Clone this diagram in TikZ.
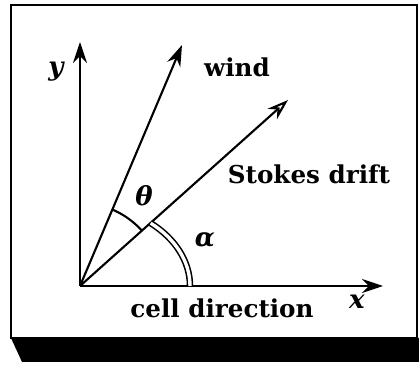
\documentclass[tikz,border=0pt]{standalone}
\usepackage{fontspec}
\setmainfont{DejaVu Serif}
\usepackage{xcolor}
\usepackage{tikz}
\usetikzlibrary{arrows.meta, positioning, calc}

\begin{document}
\begin{tikzpicture}[
    every node/.style={font=\fontsize{17.5}{20}\selectfont\bfseries},
    mth/.style={font=\fontsize{18.5}{20}\selectfont\bfseries\itshape},
    axis/.style={-{Stealth[length=15pt, width=10pt]}, line width=1.5pt},
    vec/.style={-{Stealth[length=15pt, width=10pt]}, line width=1.5pt},
    ovec/.style={-{Stealth[open, length=15pt, width=10pt]}, line width=1.5pt},
    ang/.style={line width=1.5pt},
  ]
    \useasboundingbox (-2.0,-2.15) rectangle (8.475,7.15);

    % frame and shadow
    \fill[black] (-1.725,-1.3) -- (8.475,-1.3) -- (8.475,-1.9)
                 -- (-1.45,-1.9) -- cycle;
    \draw[line width=1.6pt] (-1.725,-1.3) rectangle (8.425,7.025);

    % axes
    \coordinate (O) at (0,0);
    \coordinate (xtip) at (7.575,0);
    \coordinate (ytip) at (0,6.1);
    \draw[axis] (O) -- (xtip);
    \draw[axis] (O) -- (ytip);
    \node[mth] (ylab) at (-0.6,5.35) {y};
    \node[mth] (xlab) at (6.925,-0.4) {x};
    \node (cell) at (3.55,-0.55) {cell direction};

    % wind and Stokes drift
    \coordinate (wtip) at (2.55,6.025);
    \coordinate (stip) at (5.2,4.65);
    \draw[vec] (O) -- (wtip);
    \draw[ovec] (O) -- (stip);
    \node (wind) at (3.925,5.475) {wind};
    \node (stokes) at (5.725,2.8) {Stokes drift};

    % angles
    \draw[ang] ($(O)+(41.8:2.075)$) arc[start angle=41.8, end angle=67.1, radius=2.075];
    \node[mth] (theta) at (1.6,2.25) {θ};
    \draw[double, double distance=2.4pt, line width=1.1pt]
         ($(O)+(2.75,0)$) arc[start angle=0, end angle=50, x radius=2.75, y radius=2.05];
    \node[mth] (alpha) at (3.125,1.15) {α};
  \end{tikzpicture}
\end{document}
